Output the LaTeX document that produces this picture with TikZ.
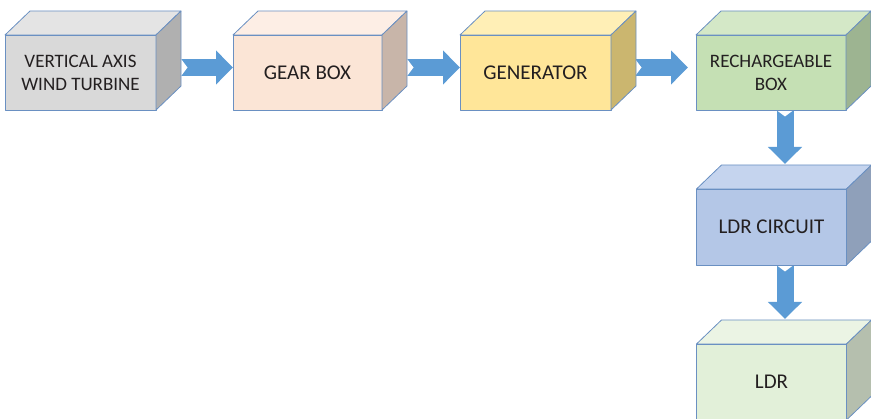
\documentclass[tikz,border=0pt]{standalone}
\usepackage{fontspec}
\setmainfont{Carlito}
\usetikzlibrary{calc,arrows.meta,backgrounds}

\definecolor{edgeblue}{HTML}{6A90C2}
\definecolor{arrowblue}{HTML}{5B9BD5}
\definecolor{ink}{HTML}{231F20}

\definecolor{grayF}{HTML}{D9D9D9}\definecolor{grayT}{HTML}{E4E4E4}\definecolor{grayS}{HTML}{B0B0B0}
\definecolor{peachF}{HTML}{FBE5D6}\definecolor{peachT}{HTML}{FDEEE5}\definecolor{peachS}{HTML}{C8B5A9}
\definecolor{goldF}{HTML}{FFE699}\definecolor{goldT}{HTML}{FFEFB6}\definecolor{goldS}{HTML}{CBB66F}
\definecolor{greenF}{HTML}{C5E0B4}\definecolor{greenT}{HTML}{D4E8C7}\definecolor{greenS}{HTML}{9DB491}
\definecolor{blueF}{HTML}{B4C7E7}\definecolor{blueT}{HTML}{C5D4EE}\definecolor{blueS}{HTML}{8FA0BA}
\definecolor{mintF}{HTML}{E2F0D9}\definecolor{mintT}{HTML}{EBF4E4}\definecolor{mintS}{HTML}{B5BFAE}

\tikzset{
  edge/.style={draw=edgeblue, line width=0.8pt, line join=round},
  front/.style={edge, rectangle, outer sep=0pt, inner sep=0pt,
    minimum width=150pt, minimum height=75pt, text=ink, align=center,
    font=\fontsize{21}{24}\selectfont},
  twoline/.style={font=\fontsize{19}{23}\selectfont},
  flow/.style={draw=arrowblue, line width=17pt,
    -{Triangle[width=33pt,length=17pt]}},
}

% top and right faces of a box whose front face is node #1
\newcommand\cubefaces[3]{%
  \filldraw[edge, fill=#2] (#1.north west) -- ++(25,-24)
    -- ($(#1.north east)+(25,-24)$) -- (#1.north east) -- cycle;
  \filldraw[edge, fill=#3] (#1.north east) -- ++(25,-24)
    -- ($(#1.south east)+(25,-24)$) -- (#1.south east) -- cycle;}

% block arrow with a small notch at its tail
\newcommand\flowarrow[2]{%
  \draw[flow] (#1) -- (#2);
  \fill[white] ($(#1)!8.6pt!90:(#2)$) -- ($(#1)!6.5pt!(#2)$)
    -- ($(#1)!8.6pt!-90:(#2)$) -- cycle;}

\begin{document}
\begin{tikzpicture}[x=1pt,y=-1pt]
\useasboundingbox (0,0) rectangle (871,419);

\node[front, fill=grayF, twoline, minimum width=151pt] (b1) at (80.5,72.5)
  {VERTICAL AXIS\\WIND TURBINE};
\node[front, fill=peachF, minimum width=149pt] (b2) at (307.5,72.5) {GEAR BOX};
\node[front, fill=goldF, minimum width=151pt] (b3) at (535.5,72.5) {GENERATOR};
\node[front, fill=greenF, twoline] (b4) at (771,72.5) {RECHARGEABLE\\BOX};
\node[front, fill=blueF, minimum height=76pt] (b5) at (771.5,227) {LDR CIRCUIT};
\node[front, fill=mintF, minimum height=76pt] (b6) at (771.5,382) {LDR};

\cubefaces{b1}{grayT}{grayS}
\cubefaces{b2}{peachT}{peachS}
\cubefaces{b3}{goldT}{goldS}
\cubefaces{b4}{greenT}{greenS}
\cubefaces{b5}{blueT}{blueS}
\cubefaces{b6}{mintT}{mintS}

\coordinate (a1s) at ($(b1.east)+(25,-5)$);
\coordinate (a1e) at ($(b2.west)+(0,-5)$);
\coordinate (a2s) at ($(b2.east)+(25,-5)$);
\coordinate (a2e) at ($(b3.west)+(0,-5)$);
\coordinate (a3s) at ($(b3.east)+(24,-5)$);
\coordinate (a3e) at ($(b4.west)+(-8,-5)$);
\coordinate (a4s) at ($(b4.south)+(14,0)$);
\coordinate (a4e) at ($(b5.north)+(13.5,-25)$);
\coordinate (a5s) at ($(b5.south)+(13.5,0)$);
\coordinate (a5e) at ($(b6.north)+(13.5,-25)$);

\begin{scope}[on background layer]
  \flowarrow{a1s}{a1e}
  \flowarrow{a2s}{a2e}
  \flowarrow{a3s}{a3e}
  \flowarrow{a4s}{a4e}
  \flowarrow{a5s}{a5e}
\end{scope}
\end{tikzpicture}
\end{document}
